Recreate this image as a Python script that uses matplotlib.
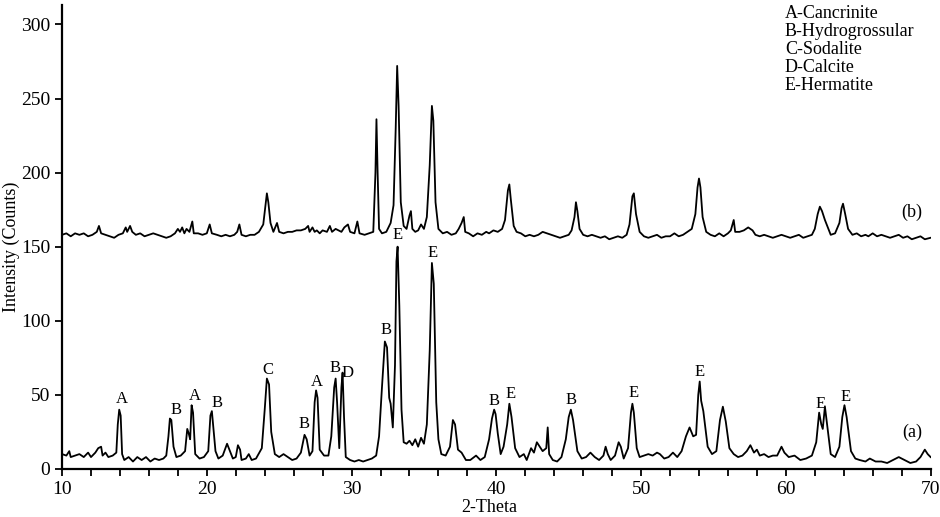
import matplotlib
matplotlib.use("Agg")
import matplotlib.pyplot as plt
from matplotlib.ticker import MultipleLocator

plt.rcParams['font.family'] = ['Liberation Serif', 'DejaVu Serif']

# trace (a): 2-theta, counts
pattern_a = [
    (10.0, 10), (10.3, 9), (10.5, 12), (10.6, 8), (10.9, 9), (11.2, 10), (11.5, 8),
    (11.8, 11), (12.0, 8), (12.3, 11), (12.5, 14), (12.7, 15), (12.8, 9), (13.0, 11),
    (13.2, 8), (13.5, 9), (13.75, 11), (13.85, 30), (13.95, 40), (14.05, 36), (14.15, 10),
    (14.3, 6), (14.6, 8), (14.9, 5), (15.2, 8), (15.5, 6), (15.8, 8), (16.1, 5), (16.4, 7),
    (16.7, 6), (17.0, 7), (17.2, 9), (17.35, 22), (17.45, 34), (17.55, 33), (17.7, 15),
    (17.9, 8), (18.2, 9), (18.5, 12), (18.65, 27), (18.75, 24), (18.85, 20), (18.95, 43),
    (19.05, 38), (19.2, 10), (19.5, 7), (19.8, 8), (20.1, 12), (20.25, 36), (20.35, 39),
    (20.45, 28), (20.6, 12), (20.8, 7), (21.1, 9), (21.4, 17), (21.6, 12), (21.8, 7),
    (22.0, 8), (22.15, 16), (22.3, 13), (22.4, 6), (22.7, 7), (22.9, 10), (23.1, 6),
    (23.4, 7), (23.8, 14), (24.0, 40), (24.15, 61), (24.3, 57), (24.45, 25), (24.7, 10),
    (25.0, 8), (25.3, 10), (25.6, 8), (25.9, 6), (26.2, 7), (26.5, 11), (26.75, 23),
    (26.9, 20), (27.1, 9), (27.3, 12), (27.45, 45), (27.55, 53), (27.65, 48), (27.8, 13),
    (28.1, 9), (28.4, 9), (28.6, 22), (28.8, 55), (28.9, 61), (29.0, 45), (29.15, 14),
    (29.3, 55), (29.38, 65), (29.48, 35), (29.6, 8), (29.9, 6), (30.2, 5), (30.5, 6),
    (30.8, 5), (31.1, 6), (31.4, 7), (31.7, 9), (31.9, 22), (32.1, 55), (32.3, 86),
    (32.45, 82), (32.6, 48), (32.7, 44), (32.85, 28), (33.0, 70), (33.1, 140), (33.18, 150),
    (33.3, 110), (33.45, 40), (33.6, 18), (33.8, 17), (34.0, 19), (34.2, 16), (34.4, 20),
    (34.6, 15), (34.8, 21), (35.0, 17), (35.2, 30), (35.4, 80), (35.55, 139), (35.68, 125),
    (35.85, 45), (36.0, 20), (36.2, 10), (36.5, 9), (36.8, 15), (37.0, 33), (37.15, 30),
    (37.35, 13), (37.6, 11), (37.9, 6), (38.2, 6), (38.6, 9), (38.9, 6), (39.2, 8),
    (39.5, 20), (39.7, 34), (39.85, 40), (39.95, 37), (40.1, 24), (40.3, 10), (40.5, 15),
    (40.75, 30), (40.9, 44), (41.05, 35), (41.3, 14), (41.6, 8), (41.9, 10), (42.1, 6),
    (42.4, 14), (42.6, 11), (42.8, 18), (43.0, 15), (43.2, 12), (43.45, 14), (43.55, 28),
    (43.65, 10), (43.9, 6), (44.2, 5), (44.5, 8), (44.8, 20), (45.0, 35), (45.15, 40),
    (45.3, 33), (45.6, 12), (45.9, 7), (46.2, 8), (46.5, 11), (46.8, 8), (47.1, 6),
    (47.4, 9), (47.55, 15), (47.7, 10), (47.9, 6), (48.2, 9), (48.45, 18), (48.6, 15),
    (48.8, 7), (49.1, 14), (49.3, 38), (49.4, 44), (49.5, 38), (49.7, 14), (49.9, 8),
    (50.2, 9), (50.5, 10), (50.8, 9), (51.1, 11), (51.3, 10), (51.6, 7), (51.9, 8),
    (52.2, 11), (52.5, 8), (52.8, 12), (53.1, 22), (53.35, 28), (53.6, 22), (53.8, 23),
    (53.95, 50), (54.05, 59), (54.15, 46), (54.3, 39), (54.6, 15), (54.9, 10), (55.2, 12),
    (55.45, 33), (55.65, 42), (55.85, 32), (56.1, 14), (56.4, 10), (56.7, 8), (57.0, 9),
    (57.3, 12), (57.55, 16), (57.8, 11), (58.0, 13), (58.2, 9), (58.5, 10), (58.8, 8),
    (59.1, 9), (59.4, 9), (59.7, 15), (59.9, 11), (60.2, 8), (60.6, 9), (61.0, 6),
    (61.4, 7), (61.8, 9), (62.1, 18), (62.3, 38), (62.45, 30), (62.55, 27), (62.7, 42),
    (62.85, 30), (63.1, 10), (63.4, 8), (63.7, 15), (63.9, 35), (64.05, 43), (64.2, 35),
    (64.5, 12), (64.8, 7), (65.1, 6), (65.5, 5), (65.8, 7), (66.2, 5), (66.6, 5),
    (67.0, 4), (67.4, 6), (67.8, 8), (68.2, 6), (68.6, 4), (69.0, 5), (69.3, 8),
    (69.6, 13), (69.8, 10), (70.0, 8),
]

# trace (b)
pattern_b = [
    (10.0, 158), (10.3, 159), (10.6, 157), (10.9, 159), (11.2, 158), (11.5, 159), (11.8, 157),
    (12.1, 158), (12.4, 160), (12.55, 164), (12.7, 159), (13.0, 158), (13.3, 157), (13.6, 156),
    (13.9, 158), (14.2, 159), (14.4, 163), (14.5, 160), (14.7, 164), (14.85, 160), (15.1, 158),
    (15.4, 159), (15.7, 157), (16.0, 158), (16.3, 159), (16.6, 158), (16.9, 157), (17.2, 156),
    (17.5, 157), (17.8, 159), (18.0, 162), (18.15, 160), (18.3, 163), (18.45, 159), (18.6, 162),
    (18.8, 160), (19.0, 167), (19.1, 159), (19.4, 159), (19.7, 158), (20.0, 159), (20.2, 165),
    (20.35, 159), (20.7, 158), (21.0, 157), (21.3, 158), (21.6, 157), (21.9, 158), (22.1, 160),
    (22.25, 165), (22.4, 158), (22.7, 157), (23.0, 158), (23.3, 158), (23.6, 160), (23.9, 165),
    (24.05, 178), (24.15, 186), (24.25, 180), (24.4, 166), (24.6, 160), (24.85, 166), (25.0, 160),
    (25.3, 159), (25.6, 160), (25.9, 160), (26.2, 161), (26.5, 161), (26.8, 162), (27.0, 164),
    (27.1, 160), (27.3, 163), (27.45, 160), (27.6, 161), (27.8, 159), (28.0, 161), (28.3, 160),
    (28.5, 164), (28.65, 160), (28.9, 162), (29.1, 161), (29.3, 160), (29.5, 163), (29.75, 165),
    (29.9, 160), (30.2, 159), (30.4, 167), (30.55, 159), (30.9, 158), (31.2, 159), (31.5, 160),
    (31.65, 200), (31.72, 236), (31.8, 200), (31.9, 162), (32.1, 159), (32.4, 160), (32.7, 166),
    (32.9, 178), (33.05, 230), (33.15, 272), (33.25, 245), (33.4, 180), (33.6, 164), (33.8, 162),
    (34.0, 171), (34.1, 174), (34.2, 162), (34.4, 160), (34.6, 161), (34.8, 165), (35.0, 162),
    (35.2, 170), (35.4, 205), (35.55, 245), (35.65, 235), (35.8, 180), (36.0, 162), (36.3, 159),
    (36.6, 160), (36.9, 158), (37.2, 159), (37.4, 162), (37.6, 166), (37.75, 170), (37.85, 160),
    (38.1, 159), (38.4, 157), (38.7, 159), (39.0, 158), (39.3, 160), (39.5, 159), (39.8, 161),
    (40.1, 160), (40.4, 162), (40.6, 168), (40.8, 188), (40.9, 192), (41.0, 182), (41.2, 164),
    (41.4, 160), (41.7, 159), (42.0, 157), (42.3, 158), (42.6, 157), (42.9, 158), (43.2, 160),
    (43.5, 159), (43.8, 158), (44.1, 157), (44.4, 156), (44.7, 157), (45.0, 158), (45.2, 161),
    (45.4, 170), (45.5, 180), (45.6, 174), (45.75, 162), (46.0, 158), (46.3, 157), (46.6, 158),
    (46.9, 157), (47.2, 156), (47.5, 157), (47.8, 155), (48.1, 156), (48.4, 157), (48.7, 156),
    (49.0, 158), (49.2, 165), (49.4, 184), (49.5, 186), (49.65, 172), (49.9, 160), (50.2, 157),
    (50.5, 156), (50.8, 157), (51.1, 158), (51.4, 156), (51.7, 157), (52.0, 157), (52.3, 159),
    (52.6, 157), (52.9, 158), (53.2, 160), (53.5, 162), (53.75, 172), (53.9, 190), (54.0, 196),
    (54.1, 190), (54.25, 170), (54.5, 160), (54.8, 158), (55.1, 157), (55.4, 159), (55.7, 157),
    (56.0, 159), (56.2, 161), (56.4, 168), (56.5, 160), (56.8, 160), (57.1, 161), (57.4, 163),
    (57.7, 161), (57.9, 158), (58.2, 157), (58.5, 158), (58.8, 157), (59.1, 156), (59.4, 157),
    (59.7, 158), (60.0, 157), (60.3, 156), (60.6, 157), (60.9, 158), (61.2, 156), (61.5, 157),
    (61.8, 158), (62.0, 162), (62.2, 172), (62.35, 177), (62.5, 174), (62.7, 168), (62.9, 163),
    (63.1, 158), (63.4, 159), (63.7, 166), (63.85, 176), (63.95, 179), (64.1, 172), (64.3, 162),
    (64.6, 158), (64.9, 159), (65.2, 157), (65.5, 158), (65.7, 157), (66.0, 159), (66.3, 157),
    (66.6, 158), (66.9, 157), (67.2, 156), (67.5, 157), (67.8, 158), (68.1, 156), (68.4, 157),
    (68.7, 155), (69.0, 156), (69.3, 157), (69.6, 155), (70.0, 156),
]

# phase letters above the peaks of (a)
peak_letters = ['A', 'B', 'A', 'B', 'C', 'B', 'A', 'B', 'D', 'B', 'E', 'E',
                'B', 'E', 'B', 'E', 'E', 'E', 'E']
letter_x = [14.1, 17.9, 19.2, 20.7, 24.2, 26.7, 27.6, 28.85, 29.75, 32.4, 33.15, 35.6,
            39.85, 41.0, 45.15, 49.5, 54.05, 62.4, 64.15]
letter_y = [47, 40, 49, 44.5, 67, 30, 59, 68, 65, 94, 158, 146,
            46, 50.5, 46.5, 51, 65.5, 44, 48.5]

phases = ['A-Cancrinite', 'B-Hydrogrossular', 'C-Sodalite', 'D-Calcite', 'E-Hermatite']


def plot_patterns():
    fig = plt.figure(figsize=(9.4, 5.17), dpi=100)
    ax = fig.add_axes([0.066, 0.093, 0.924, 0.897])

    for pattern in (pattern_a, pattern_b):
        tt = [p[0] for p in pattern]
        cc = [p[1] for p in pattern]
        ax.plot(tt, cc, color='black', lw=1.3)

    for s, x, y in zip(peak_letters, letter_x, letter_y):
        ax.text(x, y, s, ha='center', va='center', fontsize=12)

    ax.text(68.7, 25, '(a)', ha='center', va='center', fontsize=13)
    ax.text(68.7, 173, '(b)', ha='center', va='center', fontsize=13)
    fig.text(0.835, 0.99, '\n'.join(phases), ha='left', va='top',
             fontsize=13, linespacing=1.08)

    ax.set_xlim(10, 70)
    ax.set_ylim(0, 313)
    ax.xaxis.set_major_locator(MultipleLocator(10))
    ax.xaxis.set_minor_locator(MultipleLocator(2))
    ax.set_yticks(range(0, 301, 50))
    ax.spines['top'].set_visible(False)
    ax.spines['right'].set_visible(False)
    for side in ('left', 'bottom'):
        ax.spines[side].set_linewidth(1.6)
    ax.tick_params(which='both', direction='out', length=5, width=1.3, labelsize=14)
    ax.set_ylabel('Intensity (Counts)', fontsize=13)
    ax.yaxis.set_label_coords(-0.048, 0.48)
    fig.text(0.521, 0.019, '2-Theta', ha='center', va='center', fontsize=13)

    fig.savefig('out.png')


if __name__ == "__main__":
    plot_patterns()
